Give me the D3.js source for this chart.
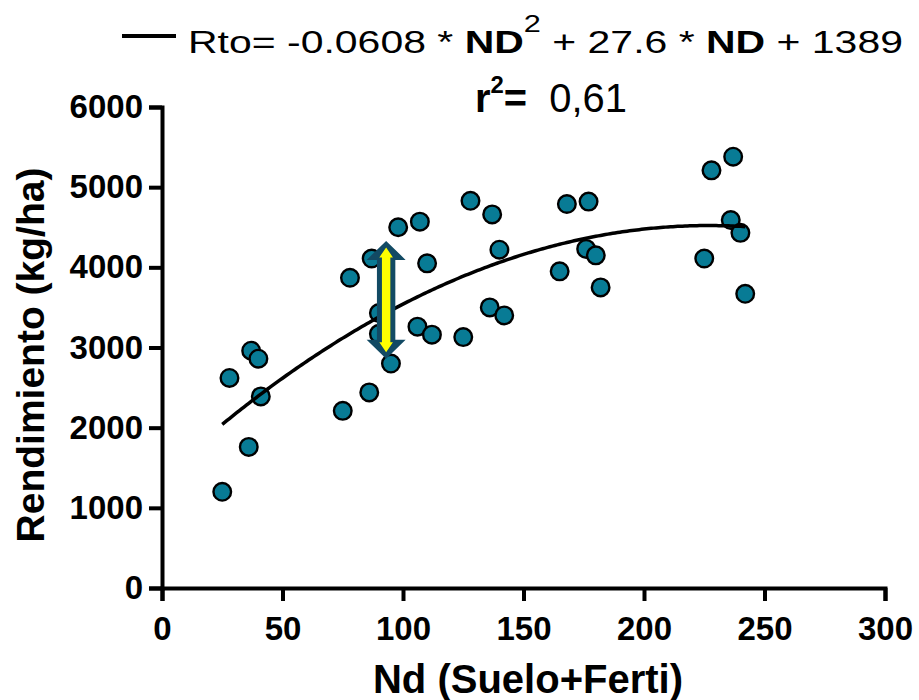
<!DOCTYPE html>
<html>
<head>
<meta charset="utf-8">
<script src="https://cdn.jsdelivr.net/npm/d3@7"></script>
<style>
  body { margin: 0; background: #fff; }
  svg { display: block; }
</style>
</head>
<body>
<svg id="chart" width="919" height="700"></svg>
<script>
// Available nitrogen (soil + fertiliser, kg/ha) and grain yield (kg/ha)
const nd  = [25, 28, 36, 37, 40, 41, 75, 78, 86, 87, 90, 90, 95, 98, 106, 107, 110, 112, 125,
             128, 136, 137, 140, 142, 165, 168, 176, 177, 180, 182, 225, 228, 236, 237, 240, 242];
const rto = [1200, 2620, 1760, 2960, 2860, 2390, 2210, 3870, 2440, 4110, 3430, 3170, 2800, 4500, 3260, 4570, 4050, 3160, 3130,
             4830, 3500, 4660, 4220, 3400, 3950, 4790, 4230, 4820, 4150, 3750, 4110, 5210, 4590, 5380, 4430, 3670];

// Quadratic fit Rto = a*ND^2 + b*ND + c, drawn over the sampled ND range
const fitCoef  = [-0.0608, 27.6, 1389];
const fitRange = [25, 242];
const r2Text   = "0,61";

// Spread marker at ND = 93
const arrowX    = 93;
const arrowSpan = [2860, 4330];

const xTicks = [0, 50, 100, 150, 200, 250, 300];
const yTicks = [0, 1000, 2000, 3000, 4000, 5000, 6000];

const FONT = "'Liberation Sans', Arial, Helvetica, sans-serif";
const svg = d3.select("#chart");

const x = d3.scaleLinear().domain([0, 300]).range([162, 885]);
const y = d3.scaleLinear().domain([0, 6000]).range([588, 107]);

// Axes
const xAxis = svg.append("g")
  .attr("transform", `translate(0,${y(0)})`)
  .call(d3.axisBottom(x).tickValues(xTicks).tickFormat(d3.format("d"))
    .tickSize(13).tickSizeOuter(13).tickPadding(16));
const yAxis = svg.append("g")
  .attr("transform", `translate(${x(0)},0)`)
  .call(d3.axisLeft(y).tickValues(yTicks).tickFormat(d3.format("d"))
    .tickSize(13).tickSizeOuter(13).tickPadding(6));

[xAxis, yAxis].forEach(g => {
  g.select(".domain").attr("stroke", "#000").attr("stroke-width", 4);
  g.selectAll(".tick line").attr("stroke", "#000").attr("stroke-width", 4);
  g.selectAll(".tick text")
    .attr("fill", "#000")
    .style("font-family", FONT)
    .style("font-weight", "bold")
    .style("font-size", "33px");
});

// Axis titles
svg.append("text")
  .attr("x", 528).attr("y", 693)
  .attr("text-anchor", "middle")
  .style("font-family", FONT).style("font-weight", "bold").style("font-size", "40px")
  .text("Nd (Suelo+Ferti)");

svg.append("text")
  .attr("transform", "translate(44,355) rotate(-90)")
  .attr("text-anchor", "middle")
  .style("font-family", FONT).style("font-weight", "bold").style("font-size", "39px")
  .text("Rendimiento (kg/ha)");

// Data points
svg.append("g")
  .selectAll("circle")
  .data(nd.map((d, i) => [d, rto[i]]))
  .join("circle")
  .attr("cx", d => x(d[0]))
  .attr("cy", d => y(d[1]))
  .attr("r", 8.8)
  .attr("fill", "#087b95")
  .attr("stroke", "#000")
  .attr("stroke-width", 2.4);

// Fitted curve
const fit = v => fitCoef[0] * v * v + fitCoef[1] * v + fitCoef[2];
const curveX = d3.range(fitRange[0], fitRange[1] + 0.001, 1);
svg.append("path")
  .datum(curveX)
  .attr("fill", "none")
  .attr("stroke", "#000")
  .attr("stroke-width", 3.5)
  .attr("d", d3.line().x(v => x(v)).y(v => y(fit(v))));

// Double-headed arrow
function doubleArrow(cx, yTop, yBot, headW, headH, shaftW) {
  return `M${cx},${yTop}L${cx + headW},${yTop + headH}L${cx + shaftW},${yTop + headH}` +
         `L${cx + shaftW},${yBot - headH}L${cx + headW},${yBot - headH}L${cx},${yBot}` +
         `L${cx - headW},${yBot - headH}L${cx - shaftW},${yBot - headH}` +
         `L${cx - shaftW},${yTop + headH}L${cx - headW},${yTop + headH}Z`;
}
const ax = x(arrowX), aTop = y(arrowSpan[1]), aBot = y(arrowSpan[0]);
svg.append("path")
  .attr("d", doubleArrow(ax, aTop, aBot, 19.5, 19, 9.2))
  .attr("fill", "#124a64");
svg.append("path")
  .attr("d", doubleArrow(ax, aTop + 6.5, aBot - 6.5, 6.8, 10, 4.2))
  .attr("fill", "#ffff00");

// Legend: line sample + equation
svg.append("line")
  .attr("x1", 122).attr("x2", 176).attr("y1", 36).attr("y2", 36)
  .attr("stroke", "#000").attr("stroke-width", 4);

// Place a text element so that it starts at x0 and spans the given width
function fitWidth(sel, x0, baseY, width) {
  const w = sel.node().getBBox().width;
  sel.attr("transform", `translate(${x0},${baseY}) scale(${width / w},1)`);
}

const eq = svg.append("text")
  .style("font-family", FONT).style("font-size", "32px");
eq.append("tspan").text(`Rto= ${fitCoef[0]} * `);
eq.append("tspan").style("font-weight", "bold").text("ND");
eq.append("tspan").attr("dy", -21).style("font-size", "24px").text("2");
eq.append("tspan").attr("dy", 21).text(` + ${fitCoef[1]} * `);
eq.append("tspan").style("font-weight", "bold").text("ND");
eq.append("tspan").text(` + ${fitCoef[2]}`);
fitWidth(eq, 188, 53, 715);

const r2 = svg.append("text")
  .style("font-family", FONT).style("font-size", "40px");
r2.append("tspan").style("font-weight", "bold").text("r");
r2.append("tspan").attr("dy", -19).style("font-weight", "bold").style("font-size", "24px").text("2");
r2.append("tspan").attr("dy", 19).style("font-weight", "bold").text("=");
r2.append("tspan").text("\u00a0 " + r2Text);
fitWidth(r2, 475, 112, 152);
</script>
</body>
</html>
